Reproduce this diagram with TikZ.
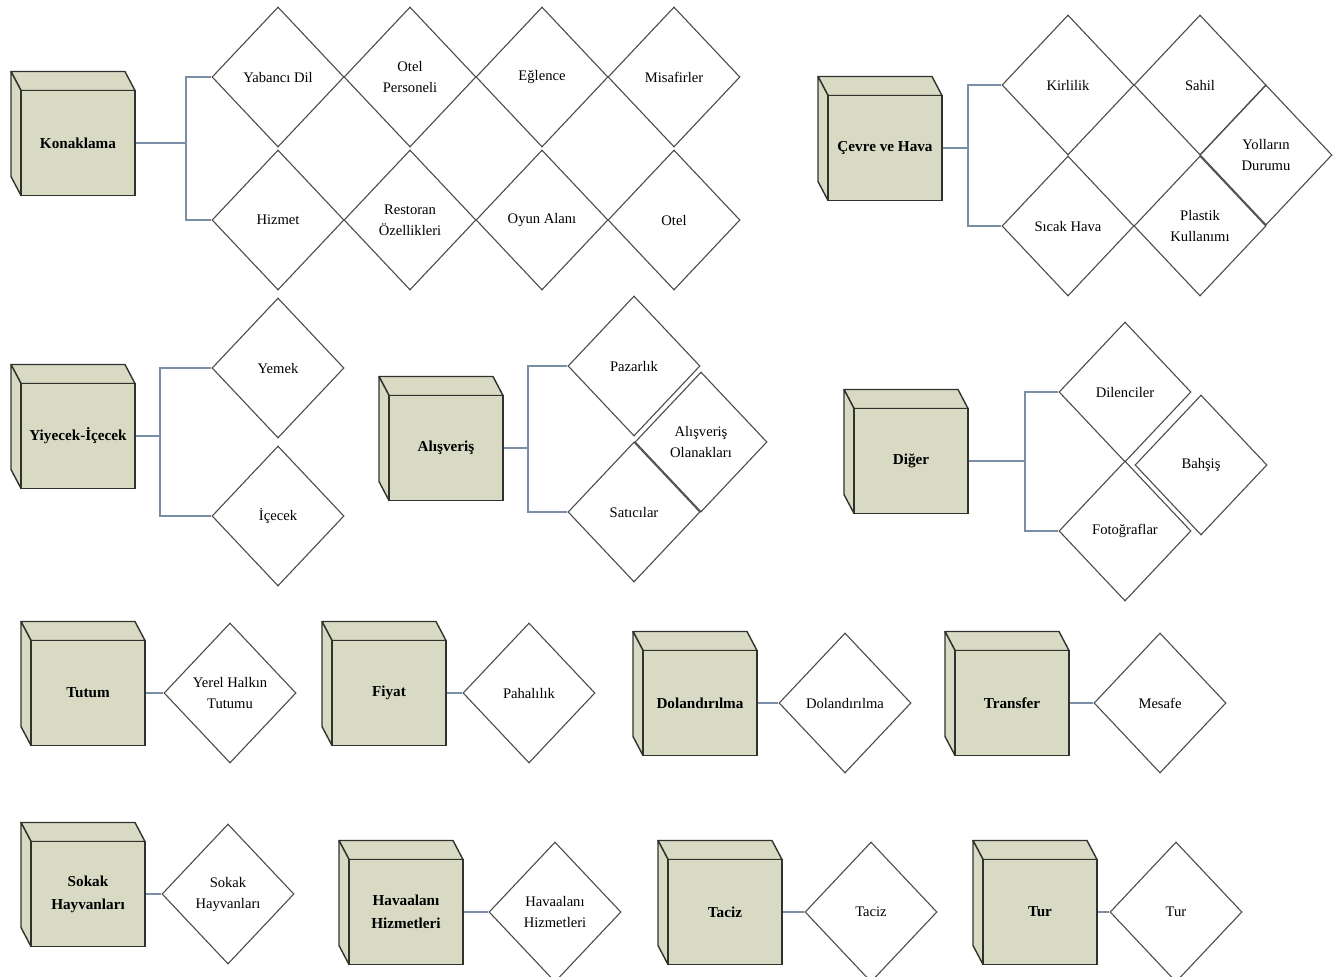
\documentclass[tikz,border=0pt]{standalone}
\usepackage{fontspec}
\setmainfont{Liberation Serif}
\usetikzlibrary{shapes.geometric}
\definecolor{cubefill}{RGB}{216,218,196}
\definecolor{connc}{RGB}{122,142,168}
\definecolor{edgec}{RGB}{50,50,45}
\tikzset{
  cubefront/.style={rectangle, draw=edgec, line width=0.9pt, fill=cubefill, minimum width=57pt, minimum height=52.5pt, inner sep=0pt, align=center, font=\fontsize{7.6}{11.5}\selectfont\bfseries},
  cubeedge/.style={draw=edgec, line width=0.7pt, fill=cubefill, line join=round},
  dia/.style={diamond, draw=black!70, line width=0.55pt, fill=white, minimum width=66pt, minimum height=70pt, inner sep=0pt, align=center, font=\fontsize{7.3}{10.5}\selectfont},
  conn/.style={draw=connc, line width=0.8pt}
}
\newcommand\mycube[3]{%
  \filldraw[cubeedge] (#2) ++(-57,-52.5) -- ++(-10,-19) -- ++(114,0) -- ++(10,19) -- cycle;
  \filldraw[cubeedge] (#2) ++(-57,-52.5) -- ++(-10,-19) -- ++(0,105) -- ++(10,19) -- cycle;
  \node[cubefront] (#1) at (#2) {#3};
}
\begin{document}
\begin{tikzpicture}[x=0.5pt,y=-0.5pt]
\useasboundingbox (0,0) rectangle (1344,976);

% ---------- Konaklama ----------
\mycube{kon}{78,143}{Konaklama}
\node[dia] (yab) at (278,77) {Yabancı Dil};
\node[dia] (otp) at (410,77) {Otel\\Personeli};
\node[dia] (egl) at (542,77) {Eğlence};
\node[dia] (mis) at (674,77) {Misafirler};
\node[dia] (hiz) at (278,220) {Hizmet};
\node[dia] (res) at (410,220) {Restoran\\Özellikleri};
\node[dia] (oyn) at (542,220) {Oyun Alanı};
\node[dia] (otl) at (674,220) {Otel};
\coordinate (konb) at (186,143);
\draw[conn] (kon.east) -- (konb);
\draw[conn] (konb) |- (yab.west);
\draw[conn] (konb) |- (hiz.west);

% ---------- Cevre ve Hava ----------
\mycube{cev}{885,148}{Çevre ve Hava}
\node[dia] (kir) at (1068,85) {Kirlilik};
\node[dia] (sah) at (1200,85) {Sahil};
\node[dia] (sic) at (1068,226) {Sıcak Hava};
\node[dia] (pla) at (1200,226) {Plastik\\Kullanımı};
\node[dia] (yol) at (1266,155) {Yolların\\Durumu};
\coordinate (cevb) at (968,148);
\draw[conn] (cev.east) -- (cevb);
\draw[conn] (cevb) |- (kir.west);
\draw[conn] (cevb) |- (sic.west);

% ---------- Yiyecek-Icecek ----------
\mycube{yiy}{78,436}{Yiyecek-İçecek}
\node[dia] (yem) at (278,368) {Yemek};
\node[dia] (ice) at (278,516) {İçecek};
\coordinate (yiyb) at (160,436);
\draw[conn] (yiy.east) -- (yiyb);
\draw[conn] (yiyb) |- (yem.west);
\draw[conn] (yiyb) |- (ice.west);

% ---------- Alisveris ----------
\mycube{alv}{446,448}{Alışveriş}
\node[dia] (sat) at (634,512) {Satıcılar};
\node[dia] (ola) at (701,442) {Alışveriş\\Olanakları};
\node[dia] (paz) at (634,366) {Pazarlık};
\coordinate (alvb) at (528,448);
\draw[conn] (alv.east) -- (alvb);
\draw[conn] (alvb) |- (paz.west);
\draw[conn] (alvb) |- (sat.west);

% ---------- Diger ----------
\mycube{dig}{911,461}{Diğer}
\node[dia] (dil) at (1125,392) {Dilenciler};
\node[dia] (bah) at (1201,465) {Bahşiş};
\node[dia] (fot) at (1125,531) {Fotoğraflar};
\coordinate (digb) at (1025,461);
\draw[conn] (dig.east) -- (digb);
\draw[conn] (digb) |- (dil.west);
\draw[conn] (digb) |- (fot.west);

% ---------- Row 4 ----------
\mycube{tut}{88,693}{Tutum}
\node[dia] (yer) at (230,693) {Yerel Halkın\\Tutumu};
\draw[conn] (tut.east) -- (yer.west);

\mycube{fiy}{389,693}{Fiyat}
\node[dia] (pah) at (529,693) {Pahalılık};
\draw[conn] (fiy.east) -- (pah.west);

\mycube{dol}{700,703}{Dolandırılma}
\node[dia] (dold) at (845,703) {Dolandırılma};
\draw[conn] (dol.east) -- (dold.west);

\mycube{tra}{1012,703}{Transfer}
\node[dia] (mes) at (1160,703) {Mesafe};
\draw[conn] (tra.east) -- (mes.west);

% ---------- Row 5 ----------
\mycube{sok}{88,894}{Sokak\\Hayvanları}
\node[dia] (sokd) at (228,894) {Sokak\\Hayvanları};
\draw[conn] (sok.east) -- (sokd.west);

\mycube{hav}{406,912}{Havaalanı\\Hizmetleri}
\node[dia] (havd) at (555,912) {Havaalanı\\Hizmetleri};
\draw[conn] (hav.east) -- (havd.west);

\mycube{tac}{725,912}{Taciz}
\node[dia] (tacd) at (871,912) {Taciz};
\draw[conn] (tac.east) -- (tacd.west);

\mycube{tur}{1040,912}{Tur}
\node[dia] (turd) at (1176,912) {Tur};
\draw[conn] (tur.east) -- (turd.west);
\end{tikzpicture}
\end{document}
